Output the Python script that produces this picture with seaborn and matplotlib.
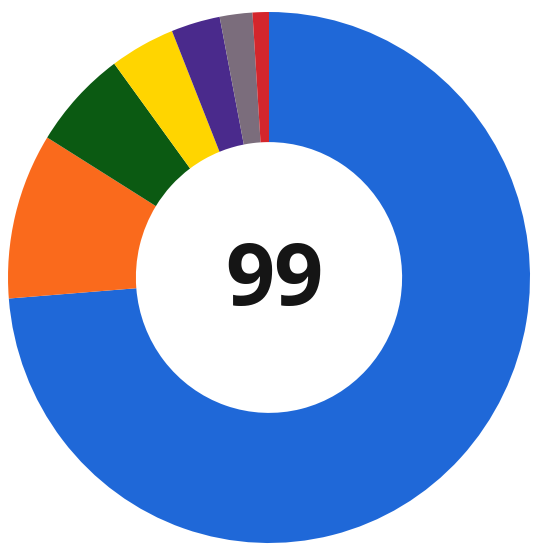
import matplotlib
matplotlib.use('Agg')
import matplotlib.pyplot as plt
import seaborn as sns

# 数据：按顺时针方向从12点开始
parties = ['blue', 'orange', 'green', 'yellow', 'purple', 'gray', 'red']
seats = [73, 10, 6, 4, 3, 2, 1]
colors = ['#1f68d8', '#fa6a1c', '#0b5a12', '#ffd500', '#4a2a8c', '#7b6d7c', '#d4262c']
total_label = '99'

sns.set_theme(style='white')
plt.rcParams['font.family'] = ['Open Sans', 'DejaVu Sans']

fig = plt.figure(figsize=(5.35, 5.46), dpi=100)
ax = fig.add_axes([8 / 535, 3 / 546, 522 / 535, 531 / 546])

ax.pie(seats, colors=sns.color_palette(colors), startangle=90, counterclock=False,
       radius=1.0, wedgeprops=dict(width=0.49, linewidth=0))
ax.set_aspect('auto')
ax.set_xlim(-1, 1)
ax.set_ylim(-1, 1)

ax.text(0.02, 0.02, total_label, ha='center', va='center_baseline',
        fontsize=62, fontweight='bold', color='#151515')

fig.savefig('out.png', dpi=100)
